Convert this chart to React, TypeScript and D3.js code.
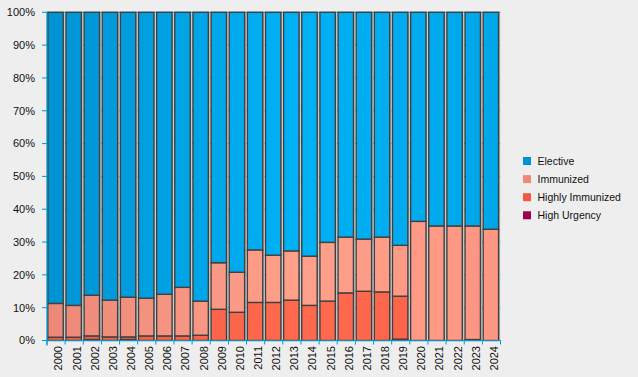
import React from "react";
import * as d3 from "d3";

const years = ["2000","2001","2002","2003","2004","2005","2006","2007","2008","2009","2010","2011","2012","2013","2014","2015","2016","2017","2018","2019","2020","2021","2022","2023","2024"];
const highUrgency = [0,0,0.3,0,0.3,0,0,0,0,0,0,0,0,0,0,0,0,0,0,0.4,0,0,0,0.3,0];
const highlyImmunized = [1.0,1.0,1.1,1.1,0.8,1.4,1.4,1.4,1.6,9.5,8.6,11.6,11.6,12.3,10.7,12.0,14.5,15.0,14.8,13.1,0,0,0,0,0];
const immunized = [10.3,9.7,12.4,11.2,12.1,11.5,12.7,14.8,10.4,14.2,12.2,16.0,14.4,15.0,15.0,17.9,17.0,15.9,16.7,15.5,36.3,34.9,34.9,34.6,33.9];
const elective = [88.7,89.3,86.2,87.7,86.8,87.1,85.9,83.8,88.0,76.3,79.2,72.4,74.0,72.7,74.3,70.1,68.5,69.1,68.5,71.0,63.7,65.1,65.1,65.1,66.1];
const yTicks = [0,10,20,30,40,50,60,70,80,90,100];
const seriesKeys = ["highUrgency","highlyImmunized","immunized","elective"];
const legendItems = [
  { key: "elective", label: "Elective", color: "#0096d6" },
  { key: "immunized", label: "Immunized", color: "#f08a78" },
  { key: "highlyImmunized", label: "Highly Immunized", color: "#f25a40" },
  { key: "highUrgency", label: "High Urgency", color: "#a0004c" },
];

const W = 638, H = 377;
const left = 47, right = 500.5, top = 12.3, bottom = 340.5;
const axisColor = "#0096d6";
const font = "'Liberation Sans', Arial, sans-serif";

export default function App() {
  const rows = years.map((y, i) => ({
    year: y,
    highUrgency: highUrgency[i],
    highlyImmunized: highlyImmunized[i],
    immunized: immunized[i],
    elective: elective[i],
  }));
  const stack = d3.stack<any>().keys(seriesKeys);
  const series = stack(rows);
  const x = d3.scaleBand<string>().domain(years).range([left, right]).padding(0);
  const y = d3.scaleLinear().domain([0, 100]).range([bottom, top]);
  const bw = x.bandwidth();
  const barW = bw * 0.85;

  return (
    <svg width={W} height={H} style={{ position: "absolute", left: 0, top: 0, background: "#eeeeee" }}>
      <defs>
        <linearGradient id="g-elective" gradientUnits="userSpaceOnUse" x1={left} x2={right} y1={0} y2={0}>
          <stop offset="0" stopColor="#0093d3" />
          <stop offset="0.55" stopColor="#00b1f6" />
          <stop offset="1" stopColor="#00a7e8" />
        </linearGradient>
        <linearGradient id="g-immunized" gradientUnits="userSpaceOnUse" x1={left} x2={right} y1={0} y2={0}>
          <stop offset="0" stopColor="#ec8878" />
          <stop offset="0.55" stopColor="#ffa08a" />
          <stop offset="1" stopColor="#fd9683" />
        </linearGradient>
        <linearGradient id="g-highlyImmunized" gradientUnits="userSpaceOnUse" x1={left} x2={right} y1={0} y2={0}>
          <stop offset="0" stopColor="#f05a44" />
          <stop offset="0.55" stopColor="#ff6a4e" />
          <stop offset="1" stopColor="#fc6048" />
        </linearGradient>
        <linearGradient id="g-highUrgency" gradientUnits="userSpaceOnUse" x1={left} x2={right} y1={0} y2={0}>
          <stop offset="0" stopColor="#9a0048" />
          <stop offset="1" stopColor="#a8004e" />
        </linearGradient>
        <linearGradient id="g-shadow" x1="0" x2="1" y1="0" y2="0">
          <stop offset="0" stopColor="#9a9a9a" />
          <stop offset="1" stopColor="#d8d8d8" />
        </linearGradient>
      </defs>
      {/* plot background */}
      <rect x={left} y={top} width={right - left} height={bottom - top} fill="#f6f6f6" />
      {/* grid lines */}
      {yTicks.map((t) => (
        <line key={"g" + t} x1={left} x2={right} y1={y(t)} y2={y(t)} stroke={axisColor} strokeWidth={1} />
      ))}
      {/* shadows */}
      {years.map((yr) => (
        <rect key={"s" + yr} x={(x(yr) as number) + 0.5 + barW} y={top + 1} width={2.2} height={bottom - top - 1} fill="url(#g-shadow)" />
      ))}
      {/* bars */}
      {series.map((s) => (
        <g key={s.key}>
          {s.map((d, i) => {
            const h = y(d[0]) - y(d[1]);
            if (h <= 0.01) return null;
            return (
              <rect
                key={i}
                x={(x(years[i]) as number) + 0.8}
                y={y(d[1])}
                width={barW}
                height={h}
                fill={`url(#g-${s.key})`}
                stroke="#404040"
                strokeWidth={1.4}
              />
            );
          })}
        </g>
      ))}
      {/* y axis */}
      <line x1={left} x2={left} y1={top} y2={bottom + 5} stroke={axisColor} strokeWidth={1.2} />
      {yTicks.map((t) => (
        <g key={"yt" + t}>
          <line x1={left - 5} x2={left} y1={y(t)} y2={y(t)} stroke={axisColor} strokeWidth={1} />
          <text x={35} y={y(t)} dy="0.35em" textAnchor="end" fontFamily={font} fontSize={11} fill="#111">
            {t + "%"}
          </text>
        </g>
      ))}
      {/* x axis */}
      <line x1={left} x2={right} y1={bottom} y2={bottom} stroke={axisColor} strokeWidth={1.2} />
      {years.map((yr) => (
        <line key={"xt" + yr} x1={(x(yr) as number)} x2={(x(yr) as number)} y1={bottom} y2={bottom + 4} stroke={axisColor} strokeWidth={1} />
      ))}
      <line x1={right} x2={right} y1={bottom} y2={bottom + 4} stroke={axisColor} strokeWidth={1} />
      {years.map((yr) => {
        const cx = (x(yr) as number) + bw / 2 + 2.5;
        return (
          <text key={"xl" + yr} transform={`translate(${cx},346) rotate(-90)`} textAnchor="end" dy="0.35em" fontFamily={font} fontSize={11} fill="#111">
            {yr}
          </text>
        );
      })}
      {/* legend */}
      {legendItems.map((it, i) => (
        <g key={it.key} transform={`translate(523,${161 + i * 18.1})`}>
          <rect x={0} y={-4} width={8} height={8} fill={it.color} />
          <text x={14.5} y={0} dy="0.35em" fontFamily={font} fontSize={10.5} fill="#111">
            {it.label}
          </text>
        </g>
      ))}
    </svg>
  );
}
